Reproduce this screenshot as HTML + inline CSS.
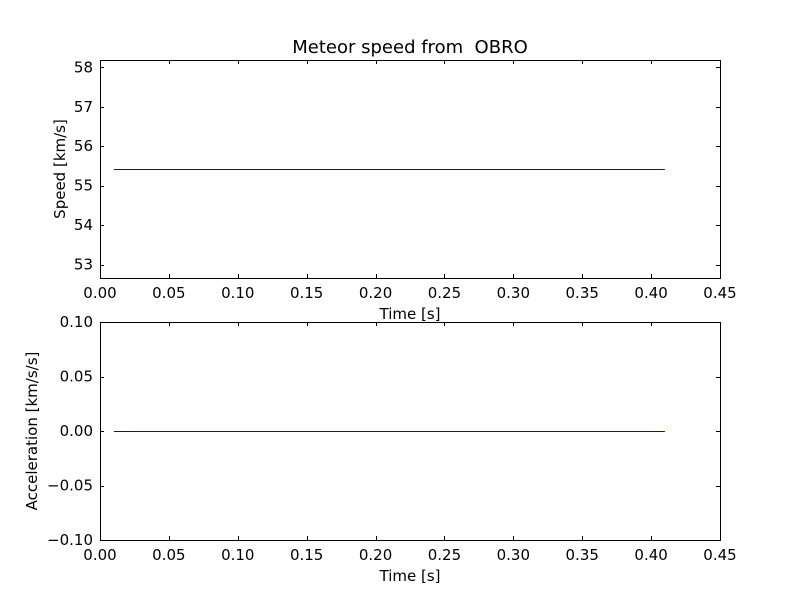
<!DOCTYPE html>
<html><head><meta charset="utf-8"><style>
body{margin:0;background:#fff;}
svg text{font-family:"DejaVu Sans","Liberation Sans",sans-serif;font-size:15px;fill:#000;white-space:pre;}
</style></head><body>
<svg id="chart" width="800" height="600" xmlns="http://www.w3.org/2000/svg" xml:space="preserve">
<rect width="800" height="600" fill="#fff"/>
</svg>
<script>
const times=[0.01,0.41];
const speeds=[55.42,55.42];
const accels=[0,0];
const xTicks=[0,0.05,0.1,0.15,0.2,0.25,0.3,0.35,0.4,0.45];
const speedTicks=[53,54,55,56,57,58];
const accelTicks=[-0.1,-0.05,0,0.05,0.1];
const svg=document.getElementById('chart');
const NS='http://www.w3.org/2000/svg';
function mk(t,a,p){const e=document.createElementNS(NS,t);for(const k in a)e.setAttribute(k,a[k]);(p||svg).appendChild(e);return e;}
function panel(top,bottom,ymin,ymax,yticks,fmt,xs,ys,ylabel,name){
  const L=100,R=720;
  const g=mk('g',{});
  
  
  const sx=v=>L+(v-0)/(0.45)*(R-L);
  const sy=v=>bottom-(v-ymin)/(ymax-ymin)*(bottom-top);
  const fr=mk('rect',{x:L+0.5,y:top+0.5,width:R-L,height:bottom-top,fill:'none',stroke:'#000','stroke-width':1},g);
  
  
  xTicks.forEach(t=>{const x=Math.round(sx(t))+0.5;
    mk('line',{x1:x,y1:bottom,x2:x,y2:bottom-4,stroke:'#000'},g);
    mk('line',{x1:x,y1:top,x2:x,y2:top+4,stroke:'#000'},g);
    const tx=mk('text',{x:sx(t),y:bottom+20,'text-anchor':'middle'},g);tx.textContent=t.toFixed(2);
    
    
  });
  yticks.forEach(t=>{const y=Math.round(sy(t))+0.5;
    mk('line',{x1:L,y1:y,x2:L+4,y2:y,stroke:'#000'},g);
    mk('line',{x1:R,y1:y,x2:R-4,y2:y,stroke:'#000'},g);
    const tx=mk('text',{x:L-7,y:sy(t)+5,'text-anchor':'end'},g);tx.textContent=fmt(t);
    
    
  });
  const pts=xs.map((v,i)=>sx(v)+','+(Math.round(sy(ys[i]))+0.5)).join(' ');
  const pl=mk('polyline',{points:pts,fill:'none',stroke:'#0000ff','stroke-width':1},g);
  
  
  const xl=mk('text',{x:(L+R)/2,y:bottom+41,'text-anchor':'middle'},g);xl.textContent='Time [s]';
  
  
  const cy=(top+bottom)/2;
  const yl=mk('text',{x:0,y:0,'text-anchor':'middle',transform:'translate('+(ylabel.x)+','+cy+') rotate(-90)'},g);yl.textContent=ylabel.t;
  
  
}
panel(60,278,52.66,58.185,speedTicks,t=>String(t),times,speeds,{t:'Speed [km/s]',x:65},'speed-panel');
panel(322,540,-0.1,0.1,accelTicks,t=>(t<0?'\u2212':'')+Math.abs(t).toFixed(2),times,accels,{t:'Acceleration [km/s/s]',x:37},'acceleration-panel');
const title=mk('text',{x:410,y:53,'text-anchor':'middle'});
title.setAttribute('style','font-size:18px');
title.textContent='Meteor speed from  OBRO';


</script>
</body></html>
